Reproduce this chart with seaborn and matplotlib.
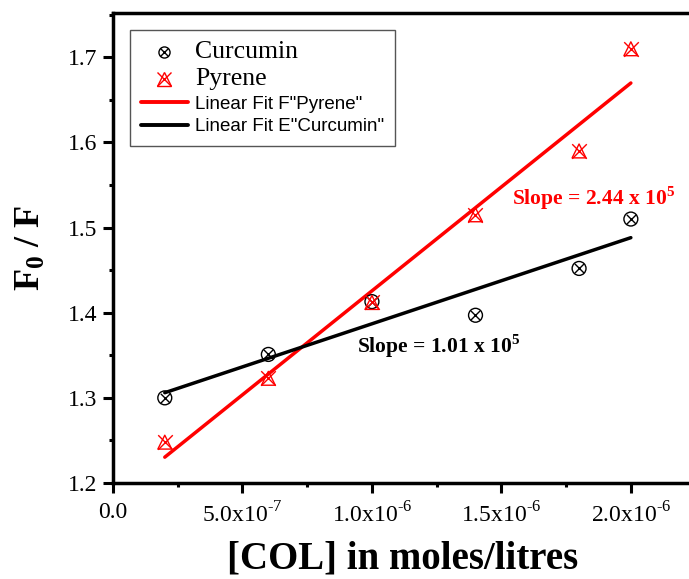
import numpy as np
import pandas as pd
import seaborn as sns
import matplotlib
matplotlib.use("Agg")
import matplotlib.pyplot as plt
from matplotlib.lines import Line2D
from matplotlib.ticker import MultipleLocator

conc = [2e-7, 6e-7, 1.0e-6, 1.4e-6, 1.8e-6, 2.0e-6]
curcumin = [1.300, 1.351, 1.413, 1.397, 1.452, 1.510]
pyrene = [1.248, 1.323, 1.412, 1.515, 1.590, 1.710]
xticks = [0.0, 5e-7, 1e-6, 1.5e-6, 2e-6]
xtick_labels = ["0.0", r"5.0x10$^{\text{-7}}$", r"1.0x10$^{\text{-6}}$",
                r"1.5x10$^{\text{-6}}$", r"2.0x10$^{\text{-6}}$"]
yticks = [1.2, 1.3, 1.4, 1.5, 1.6, 1.7]

sns.set_style("ticks")
plt.rcParams['font.family'] = ['Liberation Serif', 'DejaVu Serif']
plt.rcParams['mathtext.fontset'] = 'custom'
plt.rcParams['mathtext.rm'] = 'Liberation Serif'
plt.rcParams['mathtext.bf'] = 'Liberation Serif:bold'
for k in ['text.color', 'axes.labelcolor', 'xtick.color', 'ytick.color', 'axes.edgecolor']:
    plt.rcParams[k] = 'black'

df = pd.DataFrame({"x": conc, "Curcumin": curcumin, "Pyrene": pyrene})

fig = plt.figure(figsize=(6.89, 5.79), dpi=100)
ax = fig.add_axes([113/689, 96/579, 580/689, 470/579])

# fit lines
sns.regplot(data=df, x="x", y="Pyrene", scatter=False, ci=None, truncate=True,
            color="red", line_kws=dict(lw=2.5), ax=ax)
sns.regplot(data=df, x="x", y="Curcumin", scatter=False, ci=None, truncate=True,
            color="black", line_kws=dict(lw=2.5), ax=ax)

# markers
sns.scatterplot(data=df, x="x", y="Curcumin", marker="o", s=100,
                facecolor="none", edgecolor="black", linewidth=1.0, ax=ax, zorder=5)
sns.scatterplot(data=df, x="x", y="Curcumin", marker="x", s=45,
                color="black", linewidth=1.0, ax=ax, zorder=5)
sns.scatterplot(data=df, x="x", y="Pyrene", marker="^", s=100,
                facecolor="none", edgecolor="red", linewidth=1.0, ax=ax, zorder=5)
sns.scatterplot(data=df, x="x", y="Pyrene", marker="x", s=110,
                color="red", linewidth=1.0, ax=ax, zorder=5)

ax.set_xlim(0, 2.24e-6)
ax.set_ylim(1.2, 1.752)
ax.set_xticks(xticks)
ax.set_xticklabels(xtick_labels)
ax.set_yticks(yticks)
ax.set_yticklabels([f"{v:.1f}" for v in yticks])
ax.xaxis.set_minor_locator(MultipleLocator(2.5e-7))
ax.yaxis.set_minor_locator(MultipleLocator(0.05))
ax.tick_params(axis="both", which="major", direction="out", length=7, width=2.2,
               labelsize=17)
ax.tick_params(axis="x", which="major", pad=7)
ax.tick_params(axis="y", which="major", pad=4)
ax.tick_params(axis="both", which="minor", direction="out", length=3, width=2.2)
for s in ["left", "bottom", "top"]:
    ax.spines[s].set_linewidth(2.5)
ax.spines["right"].set_visible(False)

ax.set_xlabel("[COL] in moles/litres", fontsize=28, fontweight="bold", labelpad=9)
ax.set_ylabel(r"$\mathbf{F_0}$ / F", fontsize=26, fontweight="bold", labelpad=14.5)

ax.text(1.54e-6, 1.535, r"Slope = 2.44 x 10$^{\mathbf{5}}$", color="red",
        fontsize=15.5, fontweight="bold", va="center", ha="left")
ax.text(9.42e-7, 1.361, r"Slope = 1.01 x 10$^{\mathbf{5}}$", color="black",
        fontsize=15.5, fontweight="bold", va="center", ha="left")

h_cur = (Line2D([], [], ls="none", marker="o", mfc="none", mec="black", ms=8, mew=1.0),
         Line2D([], [], ls="none", marker="x", color="black", ms=6, mew=1.0))
h_pyr = (Line2D([], [], ls="none", marker="^", mfc="none", mec="red", ms=10, mew=1.0),
         Line2D([], [], ls="none", marker="x", color="red", ms=10, mew=1.0))
h_fp = Line2D([], [], color="red", lw=2.8)
h_fc = Line2D([], [], color="black", lw=2.8)
leg = ax.legend([h_cur, h_pyr, h_fp, h_fc],
                ["Curcumin", "Pyrene", 'Linear Fit F"Pyrene"', 'Linear Fit E"Curcumin"'],
                loc="upper left", bbox_to_anchor=(17/580, (470-17)/470), frameon=True,
                fancybox=False, edgecolor="#555555", framealpha=1, fontsize=13,
                handlelength=2.6, borderpad=0.6, labelspacing=0.3, handletextpad=0.4,
                borderaxespad=0)
leg.get_frame().set_linewidth(1.0)
texts = leg.get_texts()
for t in texts[:2]:
    t.set_fontsize(18.5)
    t.set_family(['Liberation Serif'])
for t in texts[2:]:
    t.set_fontsize(13.5)
    t.set_family(['Liberation Sans'])

fig.savefig("out.png", dpi=100)
